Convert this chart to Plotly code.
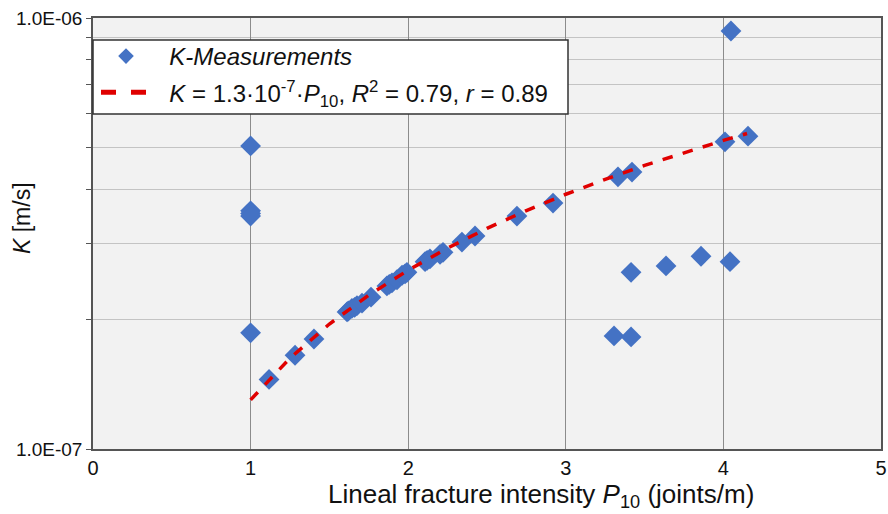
import plotly.graph_objects as go

# Measured data (P10 in joints/m, K in m/s)
p10 = [1.00, 1.00, 1.00, 1.00, 1.00, 1.117, 1.282, 1.402, 1.612, 1.62, 1.643, 1.66, 1.675,
       1.707, 1.764, 1.865, 1.88, 1.897, 1.929, 1.961, 1.98, 1.992, 2.107, 2.12, 2.138,
       2.202, 2.221, 2.341, 2.424, 2.690, 2.919, 3.331, 3.420, 4.010, 4.156, 4.048,
       3.414, 3.636, 3.858, 4.042, 3.306, 3.414]
k_vals = [5.05e-7, 3.57e-7, 3.52e-7, 3.47e-7, 1.86e-7, 1.45e-7, 1.65e-7, 1.80e-7, 2.08e-7,
          2.09e-7, 2.12e-7, 2.13e-7, 2.15e-7, 2.18e-7, 2.25e-7, 2.39e-7, 2.41e-7, 2.43e-7,
          2.47e-7, 2.53e-7, 2.55e-7, 2.57e-7, 2.72e-7, 2.74e-7, 2.76e-7, 2.83e-7, 2.86e-7,
          3.02e-7, 3.12e-7, 3.47e-7, 3.72e-7, 4.28e-7, 4.39e-7, 5.16e-7, 5.32e-7, 9.33e-7,
          2.57e-7, 2.66e-7, 2.80e-7, 2.72e-7, 1.83e-7, 1.82e-7]

# Fitted line K = 1.3e-7 * P10
fit_x = [1.0, 1.25, 1.5, 1.75, 2.0, 2.25, 2.5, 2.75, 3.0, 3.25, 3.5, 3.75, 4.0, 4.15]
fit_y = [1.30e-7, 1.625e-7, 1.95e-7, 2.275e-7, 2.60e-7, 2.925e-7, 3.25e-7, 3.575e-7,
         3.90e-7, 4.225e-7, 4.55e-7, 4.875e-7, 5.20e-7, 5.395e-7]

y_major = [1e-7, 1e-6]
y_major_text = ["1.0E-07", "1.0E-06"]
y_minor = [2e-7, 3e-7, 4e-7, 5e-7, 6e-7, 7e-7, 8e-7, 9e-7]
x_tickvals = [0, 1, 2, 3, 4, 5]

FONT = "Liberation Sans, Arial, sans-serif"
TXT = "#111111"

# plot-area pixel frame (for placing titles / legend box)
PL, PR, PT, PB = 93, 881, 18, 449


def px_x(px):
    return (px - PL) / (PR - PL)


def px_y(py):
    return (PB - py) / (PB - PT)


fig = go.Figure()
fig.add_trace(go.Scatter(
    x=p10, y=k_vals, mode="markers",
    marker=dict(symbol="diamond", size=16, color="#4472C4"),
    name="&nbsp;&nbsp;<i>K-Measurements</i>", legendgroup="a",
))
fig.add_trace(go.Scatter(
    x=fit_x, y=fit_y, mode="lines",
    line=dict(color="#E00000", width=3.5, dash="dash"),
    name="&nbsp;&nbsp;<i>K</i> = 1.3·10<sup>-7</sup>·<i>P</i><sub>10</sub>, <i>R</i><sup>2</sup> = 0.79, <i>r</i> = 0.89",
    legendgroup="b",
))

# N annotation
fig.add_annotation(
    x=0.165, y=1.174e-7, xref="x", yref="y", xanchor="left", yanchor="middle",
    text="<b><i>N</i> = 42</b>", showarrow=False,
    font=dict(size=19, color=TXT, family=FONT),
)
# Axis titles
fig.add_annotation(
    x=px_x(541), y=px_y(495), xref="paper", yref="paper", showarrow=False,
    text="Lineal fracture intensity <i>P</i><sub>10</sub> (joints/m)",
    font=dict(size=26, family=FONT, color=TXT), xanchor="center", yanchor="middle",
)
fig.add_annotation(
    x=px_x(22), y=px_y(218), xref="paper", yref="paper", showarrow=False, textangle=-90,
    text="<i>K</i> [m/s]",
    font=dict(size=23, family=FONT, color=TXT), xanchor="center", yanchor="middle",
)

# legend frame (white box with dark border)
fig.add_shape(
    type="rect", xref="paper", yref="paper", layer="above",
    x0=px_x(93), x1=px_x(568), y0=px_y(114), y1=px_y(40),
    fillcolor="white", line=dict(color="#333333", width=1.5),
)

fig.update_layout(
    width=888, height=514,
    margin=dict(l=PL, r=888 - PR, t=PT, b=514 - PB),
    paper_bgcolor="white",
    plot_bgcolor="#F2F2F2",
    font=dict(family=FONT, color=TXT),
    showlegend=True,
    legend=dict(
        x=px_x(96), y=px_y(34), xanchor="left", yanchor="top",
        bgcolor="rgba(0,0,0,0)", borderwidth=0,
        font=dict(size=24, family=FONT, color=TXT),
        itemsizing="constant", itemwidth=50,
        tracegroupgap=2,
    ),
    xaxis=dict(
        range=[0, 5], tickvals=x_tickvals, automargin=False,
        showgrid=True, gridcolor="#8C8C8C", gridwidth=1,
        zeroline=False, showline=True, linecolor="#555555", linewidth=1.5, mirror=True,
        ticks="", tickfont=dict(size=20, family=FONT, color=TXT),
    ),
    yaxis=dict(
        type="log", range=[-7, -6], tickvals=y_major, ticktext=y_major_text,
        automargin=False,
        showgrid=True, gridcolor="#C4C4C4", gridwidth=1.2,
        zeroline=False, showline=True, linecolor="#555555", linewidth=1.5, mirror=True,
        ticks="outside", ticklen=5, tickcolor="#555555",
        tickfont=dict(size=19, family=FONT, color=TXT),
        minor=dict(tickvals=y_minor, showgrid=True, gridcolor="#C4C4C4", gridwidth=1.2,
                   ticks="outside", ticklen=5, tickcolor="#555555"),
    ),
)

fig.write_html("out.html")
